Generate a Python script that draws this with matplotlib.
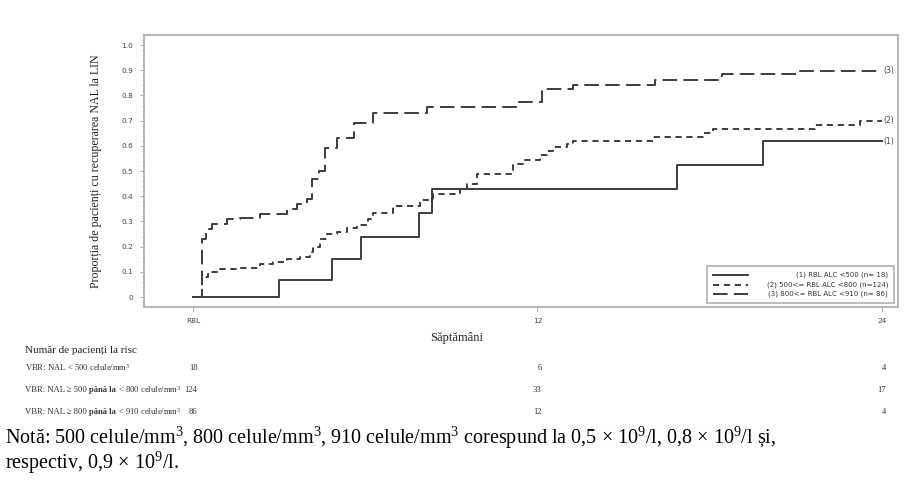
import numpy as np
import matplotlib
matplotlib.use("Agg")
import matplotlib.pyplot as plt
import matplotlib.transforms as mtransforms
from matplotlib.ticker import MultipleLocator

plt.rcParams["mathtext.fontset"] = "custom"
plt.rcParams["mathtext.rm"] = "Liberation Serif"
plt.rcParams["mathtext.it"] = "Liberation Serif:italic"
plt.rcParams["mathtext.bf"] = "Liberation Serif:bold"

# Kaplan-Meier style cumulative curves (weeks, proportion)
t1 = [0, 3.0, 4.85, 5.85, 7.87, 8.33, 16.86, 19.86, 24]
p1 = [0, 0.067, 0.15, 0.238, 0.333, 0.43, 0.524, 0.619, 0.619]

t2 = [0, 0.3, 0.53, 0.94, 1.52, 2.33, 2.79, 3.26, 3.72, 4.07, 4.19, 4.42, 4.66, 5.0, 5.35,
      5.7, 6.1, 6.28, 6.98, 7.91, 8.37, 9.3, 9.54, 9.88, 11.16, 11.51, 12.09, 12.32, 12.55,
      13.02, 13.25, 16.04, 17.78, 18.13, 21.67, 23.24, 24]
p2 = [0, 0.08, 0.10, 0.11, 0.115, 0.13, 0.14, 0.15, 0.16, 0.18, 0.20, 0.23, 0.25, 0.26, 0.275,
      0.285, 0.31, 0.335, 0.36, 0.385, 0.41, 0.427, 0.448, 0.488, 0.53, 0.544, 0.563, 0.58, 0.596,
      0.609, 0.62, 0.634, 0.65, 0.665, 0.683, 0.70, 0.70]

t3 = [0, 0.3, 0.45, 0.65, 1.17, 1.64, 2.33, 3.26, 3.61, 3.96, 4.13, 4.37, 4.6, 5.0, 5.59, 6.28,
      8.15, 11.29, 12.16, 13.24, 16.1, 18.43, 21.08, 24]
p3 = [0, 0.23, 0.27, 0.29, 0.31, 0.315, 0.33, 0.35, 0.37, 0.39, 0.47, 0.50, 0.59, 0.63, 0.69, 0.73,
      0.753, 0.775, 0.824, 0.841, 0.861, 0.884, 0.898, 0.898]

legend_labels = ["(1) RBL ALC <500 (n= 18)", "(2) 500<= RBL ALC <800 (n=124)",
                 "(3) 800<= RBL ALC <910 (n= 86)"]
end_labels = ["(1)", "(2)", "(3)"]

y_ticks = [0, 0.1, 0.2, 0.3, 0.4, 0.5, 0.6, 0.7, 0.8, 0.9, 1.0]
y_ticklabels = ["0", "0.1", "0.2", "0.3", "0.4", "0.5", "0.6", "0.7", "0.8", "0.9", "1.0"]
x_ticks = [0, 12, 24]
x_ticklabels = ["RBL", "12", "24"]

# each row label split into (text, bold?) pieces
risk_rows = [
    [("VBR: NAL < 500 celule/mm$^3$", False)],
    [("VBR: NAL ≥ 500 ", False), ("până la", True), (" < 800 celule/mm$^3$", False)],
    [("VBR: NAL ≥ 800 ", False), ("până la", True), (" < 910 celule/mm$^3$", False)],
]
risk_weeks = [0, 12, 24]
risk_counts = [[18, 6, 4], [124, 33, 17], [86, 12, 4]]

note_lines = ["Notă: 500 celule/mm$^3$, 800 celule/mm$^3$, 910 celule/mm$^3$ corespund la "
              "0,5 × 10$^9$/l, 0,8 × 10$^9$/l și,",
              "respectiv, 0,9 × 10$^9$/l."]

serif = ["Liberation Serif", "DejaVu Serif"]
line_col = "#3c3c3c"

fig = plt.figure(figsize=(9.18, 4.86), dpi=100)
ax = fig.add_axes([0.157, 0.368, 0.821, 0.560])

styles = ["-", (0, (3.2, 2.4)), (0, (7.5, 3.2))]
curves = [(t1, p1), (t2, p2), (t3, p3)]
for (t, p), ls in zip(curves, styles):
    ax.step(t, p, where="post", color=line_col, lw=1.4, linestyle=ls)

for (t, p), lab in zip(curves, end_labels):
    ax.text(t[-1] + 0.05, p[-1], lab, fontsize=5.5, color="#444444", va="center", ha="left")

ax.set_xlim(-1.71, 24.56)
ax.set_ylim(-0.04, 1.04)
ax.set_yticks(y_ticks)
ax.set_yticklabels(y_ticklabels)
ax.yaxis.set_minor_locator(MultipleLocator(0.02))
ax.set_xticks(x_ticks)
ax.set_xticklabels(x_ticklabels)
ax.tick_params(labelsize=5.3, colors="#999999", labelcolor="#444444", length=3, width=0.6, pad=5)
ax.tick_params(which="minor", length=1.5, width=0.5, colors="#aaaaaa")
for s in ax.spines.values():
    s.set_color("#b0b0b0")
    s.set_linewidth(1.3)

ax.set_ylabel("Proporția de pacienți cu recuperarea NAL la LIN", family=serif, fontsize=8.6,
              color="#222222", labelpad=14)

# legend box drawn by hand so the texts can be right aligned
ax.add_patch(plt.Rectangle((0.747, 0.015), 0.248, 0.137, transform=ax.transAxes,
                           facecolor="white", edgecolor="#b0b0b0", lw=1.2, zorder=5))
for i, (lab, ls) in enumerate(zip(legend_labels, styles)):
    yy = 0.118 - i * 0.035
    ax.plot([0.755, 0.801], [yy, yy], transform=ax.transAxes, color=line_col, lw=1.4,
            linestyle=ls, zorder=6)
    ax.text(0.987, yy, lab, transform=ax.transAxes, fontsize=5, color="#333333",
            ha="right", va="center", zorder=6)

fig.text(0.497, 0.305, "Săptămâni", family=serif, fontsize=9, color="#222222",
         ha="center", va="center")

# numbers at risk table
fig.text(0.027, 0.279, "Număr de pacienți la risc", family=serif, fontsize=8, color="#222222",
         va="center")
renderer = fig.canvas.get_renderer()
trans = mtransforms.blended_transform_factory(ax.transData, fig.transFigure)
row_y = [0.243, 0.198, 0.153]
for pieces, counts, yy in zip(risk_rows, risk_counts, row_y):
    x = 0.027
    for txt, bold in pieces:
        t = fig.text(x, yy, txt, family=serif, fontsize=6.2, color="#333333", va="center",
                     weight="bold" if bold else "normal")
        bb = t.get_window_extent(renderer)
        x = fig.transFigure.inverted().transform((bb.x1, bb.y0))[0]
    for w, c in zip(risk_weeks, counts):
        ax.text(w + 0.15, yy, str(c), transform=trans, family=serif, fontsize=6.2,
                color="#333333", ha="right", va="center", clip_on=False)

fig.text(0.005, 0.100, note_lines[0], family=serif, fontsize=14.5, color="black", va="center")
fig.text(0.005, 0.047, note_lines[1], family=serif, fontsize=14.5, color="black", va="center")

fig.savefig("out.png", dpi=100)
